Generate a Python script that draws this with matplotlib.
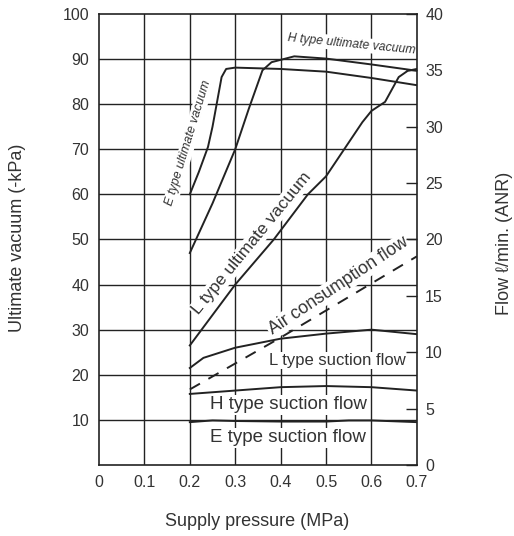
import matplotlib
matplotlib.use('Agg')
import matplotlib.pyplot as plt

plt.rcParams['font.family'] = ['Liberation Sans', 'DejaVu Sans']

# ultimate vacuum curves (-kPa, left axis)
e_vac_x = [0.2, 0.22, 0.24, 0.25, 0.26, 0.27, 0.28, 0.3, 0.4, 0.5, 0.6, 0.7]
e_vac_y = [60, 65, 70.5, 75, 80.5, 86, 87.8, 88.1, 87.8, 87.2, 85.8, 84.2]
h_vac_x = [0.2, 0.25, 0.3, 0.33, 0.36, 0.38, 0.43, 0.5, 0.6, 0.7]
h_vac_y = [47, 58, 70, 79, 87.5, 89.3, 90.6, 90.1, 88.8, 87.4]
l_vac_x = [0.2, 0.3, 0.385, 0.46, 0.5, 0.54, 0.58, 0.6, 0.63, 0.66, 0.68, 0.7]
l_vac_y = [26.5, 40, 50, 60, 64, 70, 76, 78.5, 80.5, 86, 87.4, 87.8]

# flow curves (l/min, right axis)
air_x = [0.2, 0.3, 0.4, 0.5, 0.6, 0.7]
air_y = [6.7, 9.0, 11.3, 13.7, 16.1, 18.5]
l_flow_x = [0.2, 0.23, 0.3, 0.4, 0.5, 0.6, 0.7]
l_flow_y = [8.6, 9.5, 10.4, 11.2, 11.65, 12.0, 11.6]
h_flow_x = [0.2, 0.3, 0.4, 0.5, 0.6, 0.7]
h_flow_y = [6.3, 6.6, 6.9, 7.0, 6.9, 6.6]
e_flow_x = [0.2, 0.25, 0.3, 0.4, 0.5, 0.55, 0.6, 0.7]
e_flow_y = [3.8, 3.95, 3.9, 3.85, 3.85, 3.95, 3.95, 3.8]

x_ticks = [0, 0.1, 0.2, 0.3, 0.4, 0.5, 0.6, 0.7]
x_labels = ['0', '0.1', '0.2', '0.3', '0.4', '0.5', '0.6', '0.7']
left_ticks = [10, 20, 30, 40, 50, 60, 70, 80, 90, 100]
right_ticks = [0, 5, 10, 15, 20, 25, 30, 35, 40]

txt = '#333333'
ln = '#222222'

fig = plt.figure(figsize=(5.14, 5.36), dpi=100)
ax = fig.add_axes([0.1926, 0.1325, 0.6184, 0.8415])
ax.set_xlim(0, 0.7)
ax.set_ylim(0, 100)
ax.set_xticks(x_ticks)
ax.set_xticklabels(x_labels)
ax.set_yticks(left_ticks)
ax.tick_params(length=0, labelsize=11.5, labelcolor=txt, pad=7)
for x in x_ticks[1:-1]:
    ax.axvline(x, color=ln, lw=1.0, zorder=0)
for y in left_ticks[:-1]:
    ax.axhline(y, color=ln, lw=1.0, zorder=0)
for s in ax.spines.values():
    s.set_color(ln)
    s.set_linewidth(1.2)

ax.plot(e_vac_x, e_vac_y, color=ln, lw=1.4, zorder=3)
ax.plot(h_vac_x, h_vac_y, color=ln, lw=1.4, zorder=3)
ax.plot(l_vac_x, l_vac_y, color=ln, lw=1.4, zorder=3)

box = dict(facecolor='white', edgecolor='none', pad=1.0)
ax.text(0.556, 93.3, 'H type ultimate vacuum', rotation=-5.6, ha='center', va='center',
        fontsize=8.8, style='italic', color=txt, bbox=box, zorder=2.5,
        rotation_mode='anchor')
ax.text(0.197, 71.5, 'E type ultimate vacuum', rotation=73, ha='center', va='center',
        fontsize=9, style='italic', color=txt, bbox=box, zorder=2.5,
        rotation_mode='anchor')
ax.text(0.336, 49.1, 'L type ultimate vacuum', rotation=50.7, ha='center', va='center',
        fontsize=12.5, color=txt, bbox=box, zorder=2.5, rotation_mode='anchor')
ax.text(0.527, 39.7, 'Air consumption flow', rotation=33.5, ha='center', va='center',
        fontsize=12.8, color=txt, bbox=box, zorder=2.5, rotation_mode='anchor')
ax.text(0.525, 23.2, 'L type suction flow', ha='center', va='center',
        fontsize=12, color=txt, bbox=box, zorder=2.5)
ax.text(0.417, 13.3, 'H type suction flow', ha='center', va='center',
        fontsize=13.5, color=txt, bbox=box, zorder=2.5)
ax.text(0.417, 6.0, 'E type suction flow', ha='center', va='center',
        fontsize=13.5, color=txt, bbox=box, zorder=2.5)

ax2 = ax.twinx()
ax2.set_ylim(0, 40)
ax2.set_yticks(right_ticks)
ax2.tick_params(direction='in', length=8, width=1.0, color=ln, labelsize=11.5,
                labelcolor=txt, pad=6)
for s in ax2.spines.values():
    s.set_visible(False)

ax2.plot(air_x, air_y, color=ln, lw=1.4, ls=(0, (6, 5)))
ax2.plot(l_flow_x, l_flow_y, color=ln, lw=1.4)
ax2.plot(h_flow_x, h_flow_y, color=ln, lw=1.4)
ax2.plot(e_flow_x, e_flow_y, color=ln, lw=1.4)

fig.text(0.034, 0.556, 'Ultimate vacuum (-kPa)', rotation=90, ha='center', va='center',
         fontsize=13, color=txt)
fig.text(0.982, 0.546, 'Flow \u2113/min. (ANR)', rotation=90, ha='center', va='center',
         fontsize=13, color=txt)
fig.text(0.501, 0.027, 'Supply pressure (MPa)', ha='center', va='center',
         fontsize=13, color=txt)

fig.savefig('out.png', dpi=100)
